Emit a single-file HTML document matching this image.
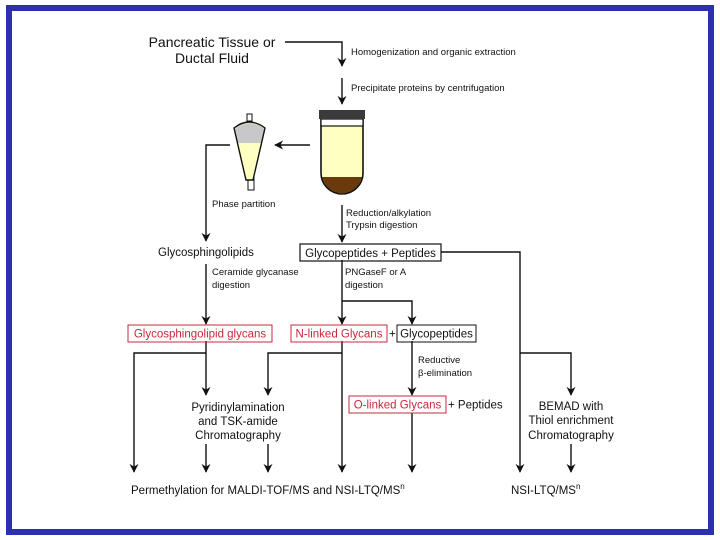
<!DOCTYPE html>
<html><head><style>
html,body{margin:0;padding:0;background:#fff}
svg{display:block}
text{font-family:"Liberation Sans",sans-serif;fill:#111}
</style></head><body>
<svg width="720" height="540" viewBox="0 0 720 540" xmlns="http://www.w3.org/2000/svg">
<defs>
<marker id="a" viewBox="0 0 10 10" refX="9" refY="5" markerWidth="9" markerHeight="9" orient="auto" markerUnits="userSpaceOnUse"><path d="M0,0 L10,5 L0,10 L3,5 z" fill="#111"/></marker>
</defs>
<rect x="9" y="8" width="702" height="524" fill="none" stroke="#2b2fb0" stroke-width="6"/>
<g stroke="#111" stroke-width="1.4" fill="none">
<path d="M285,42 H342 V66" marker-end="url(#a)"/>
<path d="M342,78 V104" marker-end="url(#a)"/>
<path d="M310,145 H275" marker-end="url(#a)"/>
<path d="M230,145 H206 V241" marker-end="url(#a)"/>
<path d="M342,205 V242" marker-end="url(#a)"/>
<path d="M441,252 H520 V472" marker-end="url(#a)"/>
<path d="M206,264 V324" marker-end="url(#a)"/>
<path d="M342,260 V324" marker-end="url(#a)"/>
<path d="M342,301 H412 V324" marker-end="url(#a)"/>
<path d="M206,341 V395" marker-end="url(#a)"/>
<path d="M206,353 H134 V472" marker-end="url(#a)"/>
<path d="M342,341 V472" marker-end="url(#a)"/>
<path d="M342,353 H268 V395" marker-end="url(#a)"/>
<path d="M412,341 V395" marker-end="url(#a)"/>
<path d="M206,444 V472" marker-end="url(#a)"/>
<path d="M268,444 V472" marker-end="url(#a)"/>
<path d="M412,413 V472" marker-end="url(#a)"/>
<path d="M520,353 H571 V395" marker-end="url(#a)"/>
<path d="M571,444 V472" marker-end="url(#a)"/>
</g>
<!-- tube -->
<path d="M321,119 H363 V173 A21,21 0 0 1 321,173 Z" fill="#ffffc0"/>
<path d="M321.7,177 H362.3 V173 A20.3,20.3 0 0 1 321.7,173 Z" fill="#6b3a0c"/>
<path d="M321,119 H363 V173 A21,21 0 0 1 321,173 Z" fill="none" stroke="#111" stroke-width="1.6"/>
<rect x="321" y="119" width="42" height="7" fill="#fff" stroke="#111" stroke-width="1.2"/>
<rect x="319" y="110" width="46" height="9" fill="#3a3a3a"/>
<!-- funnel -->
<rect x="247" y="114" width="5" height="7" fill="#fff" stroke="#111"/>
<rect x="248" y="178" width="6" height="12" fill="#fff" stroke="#111"/>
<path d="M234,128 Q249,116 265,128 L253,180 H246 Z" fill="#ffffc0"/>
<path d="M234.5,129 Q249,117 264.5,129 L261.5,143 H237.5 Z" fill="#c8c8c8"/>
<path d="M234,128 Q249,116 265,128 L253,180 H246 Z" fill="none" stroke="#111" stroke-width="1.4"/>
<!-- boxes -->
<rect x="300" y="244" width="141" height="17" fill="none" stroke="#111" stroke-width="1.2"/>
<rect x="128" y="325" width="144" height="17" fill="none" stroke="#c8283c"/>
<rect x="291" y="325" width="96" height="17" fill="none" stroke="#c8283c"/>
<rect x="397" y="325" width="79" height="17" fill="none" stroke="#111"/>
<rect x="349" y="396" width="97" height="17" fill="none" stroke="#c8283c"/>
<g font-size="14">
<text x="212" y="47" text-anchor="middle">Pancreatic Tissue or</text>
<text x="212" y="63" text-anchor="middle">Ductal Fluid</text>
</g>
<g font-size="9.5">
<text x="351" y="55">Homogenization and organic extraction</text>
<text x="351" y="91">Precipitate proteins by centrifugation</text>
<text x="212" y="207">Phase partition</text>
<text x="346" y="216">Reduction/alkylation</text>
<text x="346" y="228">Trypsin digestion</text>
<text x="212" y="275">Ceramide glycanase</text>
<text x="212" y="288">digestion</text>
<text x="345" y="275">PNGaseF or A</text>
<text x="345" y="288">digestion</text>
<text x="418" y="363">Reductive</text>
<text x="418" y="376">β-elimination</text>
</g>
<g font-size="11.5">
<text x="158" y="256">Glycosphingolipids</text>
<text x="370.5" y="257" text-anchor="middle">Glycopeptides + Peptides</text>
<text x="200" y="337.5" text-anchor="middle" style="fill:#c8283c">Glycosphingolipid glycans</text>
<text x="339" y="337.5" text-anchor="middle" style="fill:#c8283c">N-linked Glycans</text>
<text x="389" y="337.5">+</text>
<text x="436.5" y="337.5" text-anchor="middle">Glycopeptides</text>
<text x="397.5" y="408.5" text-anchor="middle" style="fill:#c8283c">O-linked Glycans</text>
<text x="448" y="408.5">+ Peptides</text>
<text x="238" y="411" text-anchor="middle">Pyridinylamination</text>
<text x="238" y="425" text-anchor="middle">and TSK-amide</text>
<text x="238" y="439" text-anchor="middle">Chromatography</text>
<text x="571" y="410" text-anchor="middle">BEMAD with</text>
<text x="571" y="424" text-anchor="middle">Thiol enrichment</text>
<text x="571" y="439" text-anchor="middle">Chromatography</text>
<text x="131" y="494">Permethylation for MALDI-TOF/MS and NSI-LTQ/MS<tspan font-size="8" dy="-5">n</tspan></text>
<text x="511" y="494">NSI-LTQ/MS<tspan font-size="8" dy="-5">n</tspan></text>
</g>
</svg>
</body></html>
